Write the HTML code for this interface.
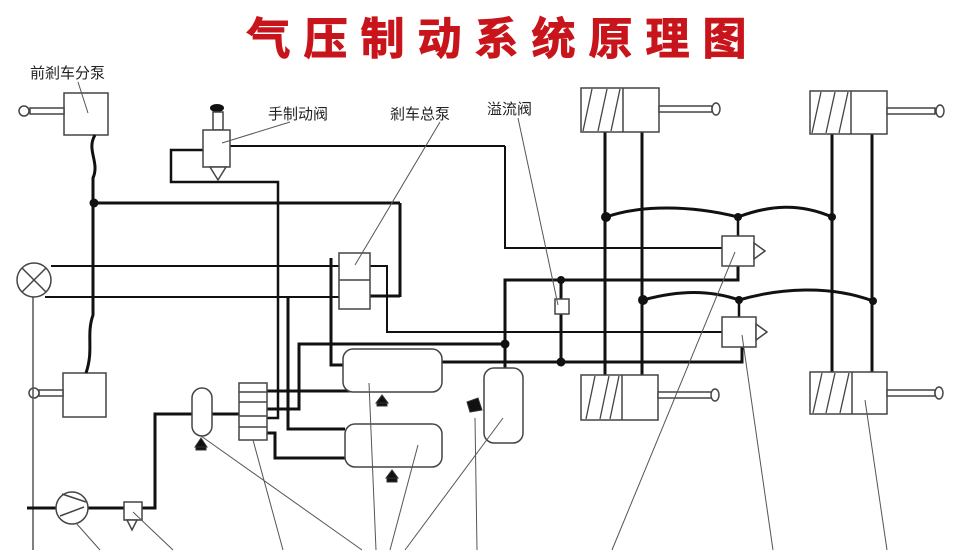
<!DOCTYPE html>
<html><head><meta charset="utf-8"><style>
html,body{margin:0;padding:0;background:#fff;}
svg{display:block;}
text{font-family:"Liberation Sans","Noto Sans CJK SC",sans-serif;}
</style></head><body>
<svg width="960" height="557" viewBox="0 0 960 557" xmlns="http://www.w3.org/2000/svg">
<rect width="960" height="557" fill="#fff"/>
<text x="503" y="54" text-anchor="middle" font-size="44" font-weight="bold" fill="#c8141b" letter-spacing="13" stroke="#c8141b" stroke-width="1">气压制动系统原理图</text>

<g fill="#fff" stroke="#444" stroke-width="1.5">
<rect x="64" y="93" width="44" height="42"/>
<rect x="30" y="108" width="34" height="6"/>
<circle cx="24" cy="111" r="5"/>
<rect x="63" y="373" width="43" height="44"/>
<rect x="39" y="390" width="24" height="6"/>
<circle cx="34" cy="393" r="5"/>
</g>
<g fill="none" stroke="#111">
<line x1="33" y1="297" x2="33" y2="550" stroke="#555" stroke-width="1.5"/>
<circle cx="34" cy="280" r="17" stroke="#444" stroke-width="1.5" fill="#fff"/>
<line x1="22" y1="268" x2="46" y2="292" stroke="#444" stroke-width="1.5"/>
<line x1="46" y1="268" x2="22" y2="292" stroke="#444" stroke-width="1.5"/>
<path d="M95 135 C86 150,100 162,93 178 L93 315 C86 335,94 350,86 373" stroke-width="3"/>
<line x1="93" y1="203" x2="400" y2="203" stroke-width="3"/>
<line x1="400" y1="203" x2="400" y2="297" stroke-width="3"/>
<line x1="370" y1="296" x2="400" y2="296" stroke-width="3"/>
<line x1="51" y1="266" x2="339" y2="266" stroke-width="2"/>
<line x1="45" y1="297" x2="339" y2="297" stroke-width="2"/>
<line x1="230" y1="146" x2="505" y2="146" stroke-width="2"/>
<polyline points="505,146 505,248 722,248" stroke-width="2"/>
<polyline points="203,150 171,150 171,182 278,182 278,418 267,418" stroke-width="2.5"/>
<polyline points="370,266 387,266 387,332 722,332" stroke-width="2"/>
<polyline points="331,258 331,365 343,365" stroke-width="3"/>
<polyline points="288,297 288,429 345,429" stroke-width="3"/>
<polyline points="267,409 299,409 299,344 505,344" stroke-width="3"/>
<line x1="267" y1="391" x2="350" y2="391" stroke-width="3"/>
<polyline points="267,433 275,433 275,458 345,458" stroke-width="3"/>
<line x1="27" y1="508" x2="56" y2="508" stroke-width="3"/>
<line x1="88" y1="508" x2="124" y2="508" stroke-width="3"/>
<polyline points="142,508 155,508 155,414 192,414" stroke-width="3"/>
<line x1="212" y1="414" x2="239" y2="414" stroke-width="3"/>
<polyline points="505,368 505,280 738,280 738,266" stroke-width="3"/>
<line x1="561" y1="280" x2="561" y2="362" stroke-width="3"/>
<polyline points="442,362 742,362 742,347" stroke-width="3"/>
<line x1="605" y1="132" x2="605" y2="375" stroke-width="3"/>
<line x1="642" y1="132" x2="642" y2="375" stroke-width="3"/>
<line x1="832" y1="134" x2="832" y2="372" stroke-width="3"/>
<line x1="872" y1="134" x2="872" y2="372" stroke-width="3"/>
<path d="M606 217 C640 205,690 205,738 217 C770 205,800 203,832 217" stroke-width="3"/>
<path d="M643 300 C680 290,710 290,739 300 C780 288,830 285,873 301" stroke-width="3"/>
<line x1="738" y1="217" x2="738" y2="236" stroke-width="2.5"/>
<line x1="739" y1="300" x2="739" y2="317" stroke-width="2.5"/>
</g>
<g fill="#111">
<circle cx="94" cy="203" r="4.5"/>
<circle cx="505" cy="344" r="4.5"/>
<circle cx="561" cy="280" r="4"/>
<circle cx="561" cy="362" r="4.5"/>
<circle cx="606" cy="217" r="5"/>
<circle cx="738" cy="217" r="4"/>
<circle cx="832" cy="217" r="4"/>
<circle cx="643" cy="300" r="5"/>
<circle cx="739" cy="300" r="4"/>
<circle cx="873" cy="301" r="4"/>
<ellipse cx="217" cy="108" rx="7" ry="4"/>
</g>
<g fill="#fff" stroke="#444" stroke-width="1.5">
<rect x="213" y="112" width="10" height="18"/>
<rect x="203" y="130" width="27" height="37"/>
<polygon points="210,167 226,167 218,180"/>
<rect x="339" y="253" width="31" height="56"/>
<line x1="339" y1="280" x2="370" y2="280"/>
<rect x="555" y="299" width="14" height="15"/>
<rect x="192" y="388" width="20" height="48" rx="10"/>
<rect x="343" y="349" width="99" height="43" rx="10"/>
<rect x="345" y="424" width="97" height="43" rx="10"/>
<rect x="484" y="368" width="39" height="75" rx="10"/>
<rect x="239" y="383" width="28" height="57"/>
<line x1="239" y1="392" x2="267" y2="392"/><line x1="239" y1="402" x2="267" y2="402"/>
<line x1="239" y1="416" x2="267" y2="416"/><line x1="239" y1="427" x2="267" y2="427"/>
<circle cx="72" cy="508" r="16"/>
<line x1="62" y1="494" x2="86" y2="502"/><line x1="60" y1="516" x2="84" y2="507"/>
<rect x="124" y="502" width="18" height="18"/>
<polygon points="127,520 137,520 132,530"/>
<rect x="722" y="236" width="32" height="30"/>
<polygon points="754,243 765,251 754,259"/>
<rect x="722" y="317" width="34" height="30"/>
<polygon points="756,324 767,332 756,340"/>
<rect x="581" y="88" width="78" height="44"/><line x1="623" y1="88" x2="623" y2="132"/>
<rect x="659" y="106" width="53" height="6"/><ellipse cx="716" cy="109" rx="4" ry="6"/>
<rect x="581" y="375" width="77" height="45"/><line x1="622" y1="375" x2="622" y2="420"/>
<rect x="658" y="392" width="54" height="6"/><ellipse cx="715" cy="395" rx="4" ry="6"/>
<rect x="810" y="91" width="77" height="43"/><line x1="851" y1="91" x2="851" y2="134"/>
<rect x="887" y="108" width="48" height="6"/><ellipse cx="940" cy="111" rx="4" ry="6"/>
<rect x="810" y="372" width="77" height="42"/><line x1="852" y1="372" x2="852" y2="414"/>
<rect x="887" y="390" width="48" height="6"/><ellipse cx="939" cy="393" rx="4" ry="6"/>
</g>
<g stroke="#444" stroke-width="1.3">
<line x1="583" y1="131" x2="592" y2="89"/><line x1="598" y1="131" x2="607" y2="89"/><line x1="611" y1="131" x2="620" y2="89"/>
<line x1="586" y1="419" x2="595" y2="376"/><line x1="600" y1="419" x2="609" y2="376"/><line x1="610" y1="419" x2="619" y2="376"/>
<line x1="812" y1="133" x2="821" y2="92"/><line x1="826" y1="133" x2="835" y2="92"/><line x1="839" y1="133" x2="848" y2="92"/>
<line x1="813" y1="413" x2="822" y2="373"/><line x1="826" y1="413" x2="835" y2="373"/><line x1="840" y1="413" x2="849" y2="373"/>
</g>
<g fill="#111" stroke="#333" stroke-width="1">
<polygon points="201,438 195,447 207,447"/><rect x="196" y="447" width="10" height="3"/>
<polygon points="382,395 376,403 388,403"/><rect x="377" y="403" width="10" height="3"/>
<polygon points="392,470 386,478 398,478"/><rect x="387" y="478" width="10" height="4"/>
<polygon points="467,402 478,398 482,410 470,412"/>
</g>
<g stroke="#555" stroke-width="1" fill="none">
<line x1="78" y1="82" x2="88" y2="113"/>
<line x1="290" y1="122" x2="222" y2="143"/>
<line x1="440" y1="122" x2="355" y2="265"/>
<line x1="518" y1="118" x2="558" y2="305"/>
<line x1="76" y1="523" x2="100" y2="550"/>
<line x1="133" y1="512" x2="173" y2="550"/>
<line x1="201" y1="436" x2="362" y2="550"/>
<line x1="253" y1="440" x2="283" y2="550"/>
<line x1="369" y1="383" x2="376" y2="550"/>
<line x1="418" y1="445" x2="390" y2="550"/>
<line x1="503" y1="418" x2="405" y2="550"/>
<line x1="475" y1="418" x2="477" y2="550"/>
<line x1="735" y1="252" x2="612" y2="550"/>
<line x1="742" y1="335" x2="773" y2="550"/>
<line x1="865" y1="400" x2="887" y2="550"/>
</g>
<g font-size="15" fill="#222">
<text x="30" y="78">前剎车分泵</text>
<text x="268" y="119">手制动阀</text>
<text x="390" y="119">剎车总泵</text>
<text x="487" y="114">溢流阀</text>
</g>
</svg>
</body></html>
